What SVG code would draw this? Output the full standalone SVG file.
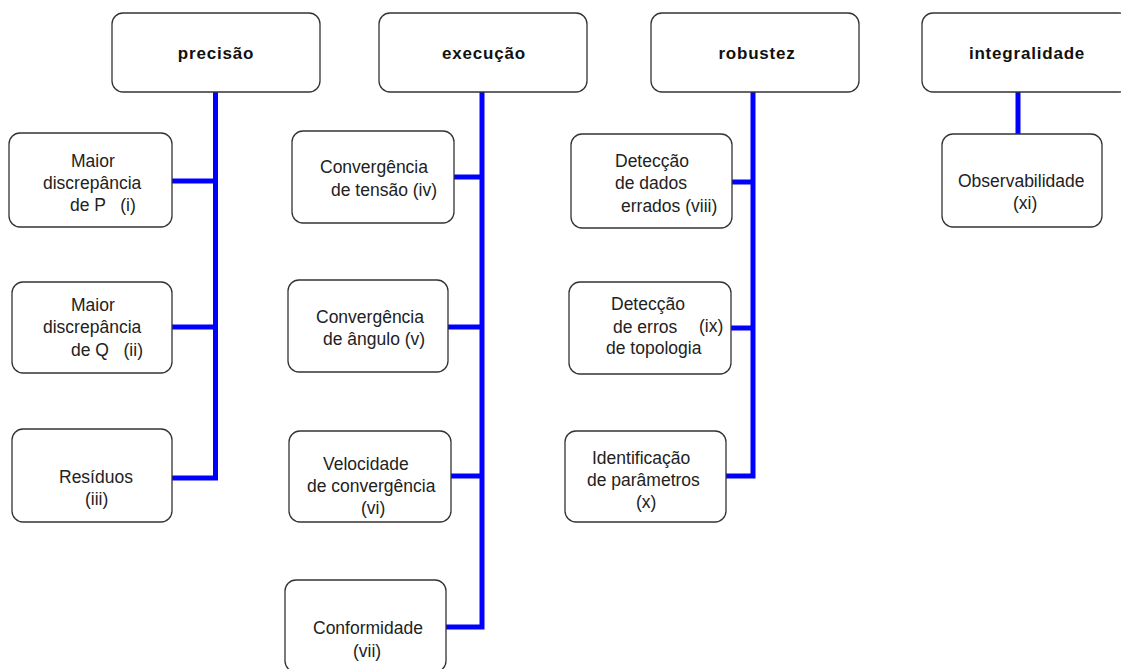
<svg xmlns="http://www.w3.org/2000/svg" width="1121" height="669" viewBox="0 0 1121 669">
  <style>
    .box { fill: #ffffff; stroke: #333333; stroke-width: 1.3; }
    .head { font-family: "Liberation Sans", Arial, sans-serif; font-size: 17px; font-weight: bold; letter-spacing: 0.8px; fill: #111111; text-anchor: middle; }
    .item { font-family: "Liberation Sans", Arial, sans-serif; font-size: 17.5px; fill: #222222; }
    .link { fill: none; stroke: #0000ff; stroke-width: 5; stroke-linejoin: miter; }
  </style>

  <!-- connectors -->
  <g id="connectors">
    <path class="link" d="M215.5 92 V478 H172"/>
    <path class="link" d="M172 181 H215.5"/>
    <path class="link" d="M172 327 H215.5"/>

    <path class="link" d="M482 92 V627 H446"/>
    <path class="link" d="M454 177 H482"/>
    <path class="link" d="M448 327 H482"/>
    <path class="link" d="M451 476 H482"/>

    <path class="link" d="M753 92 V476 H726"/>
    <path class="link" d="M732 182 H753"/>
    <path class="link" d="M731 328 H753"/>

    <path class="link" d="M1018 92 V134"/>
  </g>

  <!-- column headers -->
  <g id="precisao">
    <rect class="box" x="112" y="13" width="208" height="79" rx="11"/>
    <text class="head" x="216" y="59">precisão</text>
  </g>
  <g id="execucao">
    <rect class="box" x="379" y="13" width="208" height="79" rx="11"/>
    <text class="head" x="484" y="59">execução</text>
  </g>
  <g id="robustez">
    <rect class="box" x="651" y="13" width="208" height="79" rx="11"/>
    <text class="head" x="757" y="59">robustez</text>
  </g>
  <g id="integralidade">
    <rect class="box" x="922" y="13" width="208" height="79" rx="11"/>
    <text class="head" x="1027" y="59">integralidade</text>
  </g>

  <!-- precisão items -->
  <g id="item-i">
    <rect class="box" x="9" y="133" width="163" height="94" rx="11"/>
    <text class="item"><tspan x="71" y="167">Maior</tspan><tspan x="43" y="188.5">discrepância</tspan><tspan x="70" y="210.5" xml:space="preserve">de P   (i)</tspan></text>
  </g>
  <g id="item-ii">
    <rect class="box" x="12" y="282" width="160" height="91" rx="11"/>
    <text class="item"><tspan x="71" y="311">Maior</tspan><tspan x="43" y="333">discrepância</tspan><tspan x="71" y="355.5" xml:space="preserve">de Q   (ii)</tspan></text>
  </g>
  <g id="item-iii">
    <rect class="box" x="12" y="429" width="160" height="93" rx="11"/>
    <text class="item"><tspan x="59" y="483">Resíduos</tspan><tspan x="85" y="505">(iii)</tspan></text>
  </g>

  <!-- execução items -->
  <g id="item-iv">
    <rect class="box" x="292" y="131" width="162" height="92" rx="11"/>
    <text class="item"><tspan x="320" y="173">Convergência</tspan><tspan x="331" y="196">de tensão (iv)</tspan></text>
  </g>
  <g id="item-v">
    <rect class="box" x="288" y="280" width="160" height="92" rx="11"/>
    <text class="item"><tspan x="316" y="322.5">Convergência</tspan><tspan x="323" y="345">de ângulo (v)</tspan></text>
  </g>
  <g id="item-vi">
    <rect class="box" x="289" y="431" width="162" height="91" rx="11"/>
    <text class="item"><tspan x="323" y="470">Velocidade</tspan><tspan x="307" y="492">de convergência</tspan><tspan x="361" y="514">(vi)</tspan></text>
  </g>
  <g id="item-vii">
    <rect class="box" x="285" y="580" width="161" height="92" rx="11"/>
    <text class="item"><tspan x="313" y="634">Conformidade</tspan><tspan x="353" y="656.5">(vii)</tspan></text>
  </g>

  <!-- robustez items -->
  <g id="item-viii">
    <rect class="box" x="571" y="134" width="161" height="94" rx="11"/>
    <text class="item"><tspan x="615" y="167">Detecção</tspan><tspan x="615" y="189">de dados</tspan><tspan x="621" y="211.5">errados (viii)</tspan></text>
  </g>
  <g id="item-ix">
    <rect class="box" x="569" y="282" width="162" height="92" rx="11"/>
    <text class="item"><tspan x="611" y="310">Detecção</tspan><tspan x="613" y="332.5">de erros</tspan><tspan x="699" y="331.5">(ix)</tspan><tspan x="606" y="353.5">de topologia</tspan></text>
  </g>
  <g id="item-x">
    <rect class="box" x="565" y="431" width="161" height="91" rx="11"/>
    <text class="item"><tspan x="592" y="464">Identificação</tspan><tspan x="587" y="485.5">de parâmetros</tspan><tspan x="636" y="507.5">(x)</tspan></text>
  </g>

  <!-- integralidade item -->
  <g id="item-xi">
    <rect class="box" x="942" y="134" width="160" height="93" rx="11"/>
    <text class="item"><tspan x="958" y="187">Observabilidade</tspan><tspan x="1013" y="208.5">(xi)</tspan></text>
  </g>
</svg>
